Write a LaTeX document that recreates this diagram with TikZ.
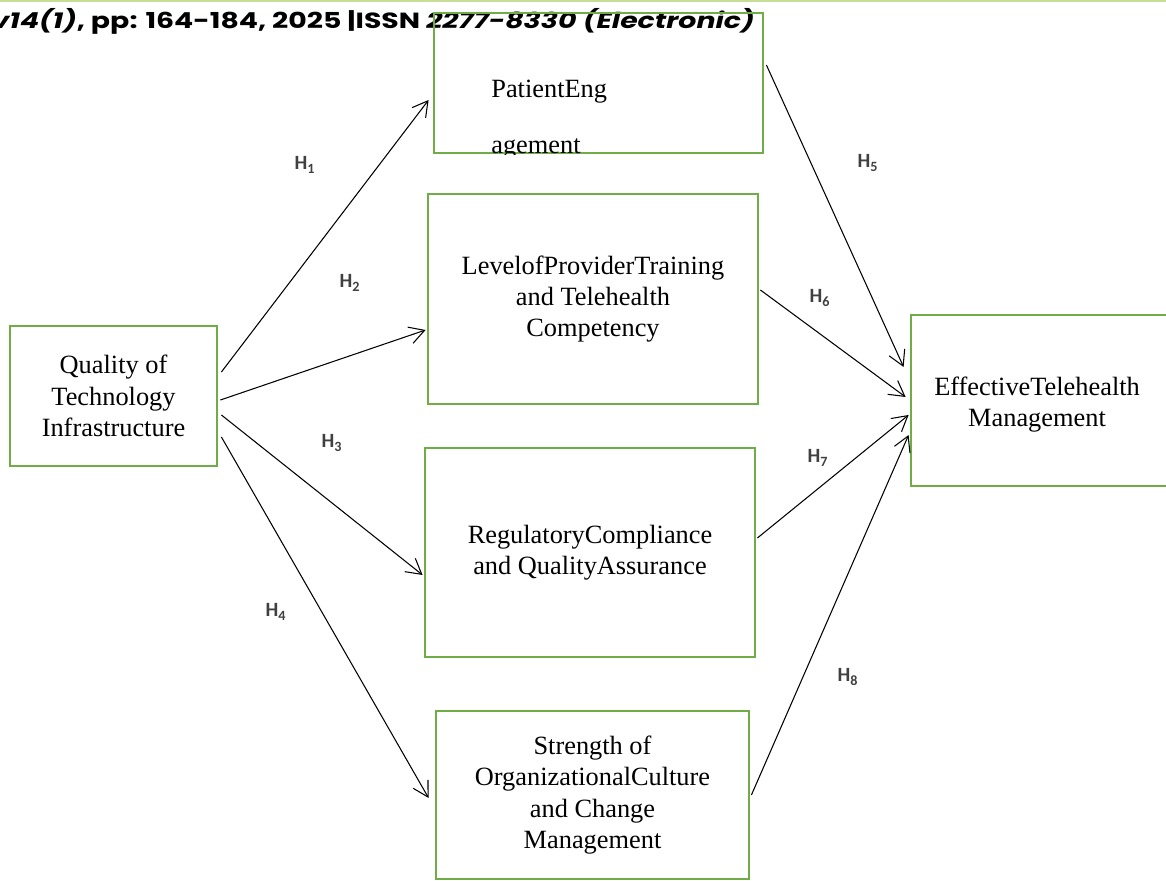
\documentclass[tikz,border=0pt]{standalone}
\usepackage{fontspec}
\setmainfont{Liberation Serif}
\newfontfamily\hypfont{Carlito}
\newfontfamily\headfont{Poppins}
\usepackage{xcolor}
\usetikzlibrary{arrows.meta,positioning}

\definecolor{boxgreen}{RGB}{112,173,71}
\definecolor{rulegreen}{RGB}{200,222,150}
\definecolor{hypgray}{RGB}{64,64,64}

\tikzset{
  var/.style={rectangle,draw=boxgreen,line width=1.6pt,align=center,
    font=\fontsize{15}{17.8}\selectfont,execute at begin node={\rule{0pt}{15pt}}},
  path/.style={line width=0.6pt,-{Straight Barb[length=3mm,width=3.4mm]}},
  hyp/.style={font=\hypfont\bfseries\fontsize{11.5}{13}\selectfont,text=hypgray}
}

\begin{document}
\begin{tikzpicture}
\useasboundingbox (0,0) rectangle (23.32,-17.62);
\clip (0,0) rectangle (23.32,-17.62);

% running head
\draw[rulegreen,line width=1.2pt] (0,-0.01) -- (23.32,-0.01);
\node[anchor=base east,inner sep=0pt,font=\headfont\bfseries\fontsize{12.5}{14}\selectfont] (head) at (15.1,-0.58)
  {\scalebox{1.29}[1]{\itshape v14(1)\upshape, pp: 164-184, 2025 |ISSN \itshape 2277-8330 (Electronic)}};

% variables
\node[var,minimum width=4.14cm,minimum height=2.8cm] (quality) at (2.27,-7.92) {Quality of\\Technology\\Infrastructure};
\node[var,minimum width=6.58cm,minimum height=2.8cm] (patient) at (11.97,-1.66) {};
\node[var,minimum width=6.6cm,minimum height=4.2cm] (level) at (11.86,-5.98) {LevelofProviderTraining\\and Telehealth\\Competency};
\node[var,minimum width=6.6cm,minimum height=4.18cm] (regul) at (11.8,-11.05) {RegulatoryCompliance\\and QualityAssurance};
\node[var,minimum width=6.26cm,minimum height=3.36cm] (strength) at (11.85,-15.9) {Strength of\\OrganizationalCulture\\and Change\\Management};
\node[var,minimum width=5.28cm,minimum height=3.42cm,text width=5cm] (effective) at (20.86,-8.01) {\hspace*{-0.24cm}EffectiveTelehealth\\\hspace*{-0.24cm}Management};

% wrapped label, cut off by the frame
\begin{scope}
\clip (patient.south west) rectangle (patient.north east);
\node[anchor=base west,align=left,inner sep=0pt,font=\fontsize{15}{17.8}\selectfont] (patienttxt) at (9.82,-3.08) {PatientEng\\[0.5cm]agement};
\end{scope}

% hypotheses
\draw[path] ([xshift=0.06cm,yshift=0.48cm]quality.east) -- ([xshift=-0.08cm,yshift=-0.34cm]patient.west);
\draw[path] ([xshift=0.04cm,yshift=-0.08cm]quality.east) -- ([xshift=-0.02cm,yshift=-0.62cm]level.west);
\draw[path] ([xshift=0.06cm,yshift=-0.38cm]quality.east) -- ([xshift=-0.02cm,yshift=-0.45cm]regul.west);
\draw[path] ([xshift=0.06cm,yshift=-0.82cm]quality.east) -- ([xshift=-0.12cm,yshift=-0.06cm]strength.west);

\draw[path] ([xshift=0.04cm,yshift=0.36cm]patient.east) -- ([xshift=-0.12cm,yshift=0.67cm]effective.west);
\draw[path] ([xshift=0.02cm,yshift=0.18cm]level.east) -- ([xshift=-0.08cm,yshift=0.07cm]effective.west);
\draw[path] ([xshift=0.02cm,yshift=0.29cm]regul.east) -- ([xshift=-0.02cm,yshift=-0.29cm]effective.west);
\draw[path] ([xshift=0.02cm,yshift=0cm]strength.east) -- ([xshift=-0.02cm,yshift=-0.69cm]effective.west);

\node[hyp] (h1) at (6.1,-3.3) {H\textsubscript{1}};
\node[hyp] (h2) at (7.0,-5.66) {H\textsubscript{2}};
\node[hyp] (h3) at (6.64,-8.86) {H\textsubscript{3}};
\node[hyp] (h4) at (5.52,-12.24) {H\textsubscript{4}};
\node[hyp] (h5) at (17.36,-3.26) {H\textsubscript{5}};
\node[hyp] (h6) at (16.4,-5.96) {H\textsubscript{6}};
\node[hyp] (h7) at (16.36,-9.16) {H\textsubscript{7}};
\node[hyp] (h8) at (16.96,-13.54) {H\textsubscript{8}};
\end{tikzpicture}
\end{document}
